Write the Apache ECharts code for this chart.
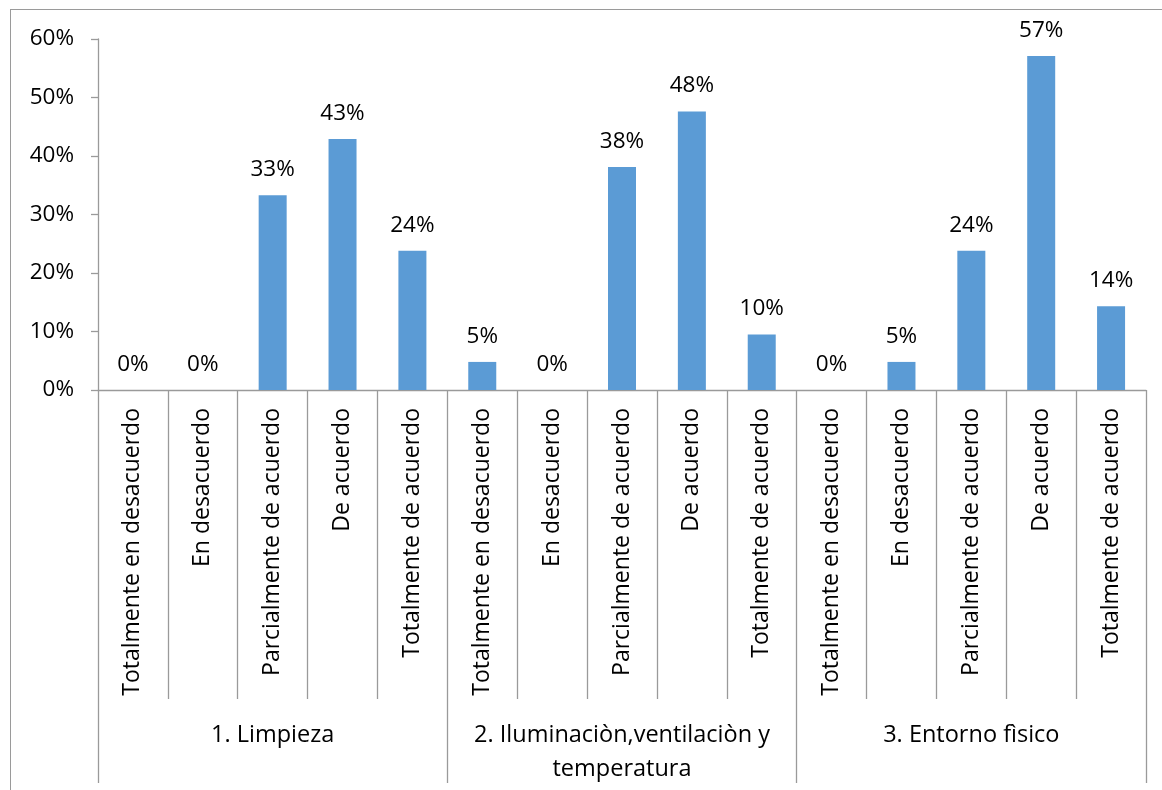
<!DOCTYPE html>
<html>
<head>
<meta charset="utf-8">
<script src="https://cdn.jsdelivr.net/npm/echarts@6/dist/echarts.min.js"></script>
<style>
html,body{margin:0;padding:0;background:#fff;}
#frame{position:absolute;left:10px;top:9px;width:1152px;height:781px;border-top:1.5px solid #9a9a9a;border-left:1.5px solid #9a9a9a;box-sizing:border-box;}
#chart{position:absolute;left:0;top:0;width:1162px;height:790px;}
</style>
</head>
<body>
<div id="frame"></div>
<div id="chart"></div>
<script>
const groups = ['1. Limpieza', '2. Iluminaciòn,ventilaciòn y\ntemperatura', '3. Entorno fìsico'];
const categories = [
  'Totalmente en desacuerdo', 'En desacuerdo', 'Parcialmente de acuerdo', 'De acuerdo', 'Totalmente de acuerdo',
  'Totalmente en desacuerdo', 'En desacuerdo', 'Parcialmente de acuerdo', 'De acuerdo', 'Totalmente de acuerdo',
  'Totalmente en desacuerdo', 'En desacuerdo', 'Parcialmente de acuerdo', 'De acuerdo', 'Totalmente de acuerdo'
];
const values = [0, 0, 33.3, 42.9, 23.8, 4.8, 0, 38.1, 47.6, 9.5, 0, 4.8, 23.8, 57.1, 14.3];
const yTicks = [0, 10, 20, 30, 40, 50, 60];

const FONT = '"Open Sans", sans-serif';
const chart = echarts.init(document.getElementById('chart'));
chart.setOption({
  animation: false,
  grid: {left: 98, right: 16, top: 39, bottom: 400, containLabel: false},
  xAxis: [
    {
      type: 'category',
      data: categories,
      position: 'bottom',
      axisLine: {show: true, lineStyle: {color: '#9a9a9a', width: 1.3}},
      axisTick: {show: true, length: 309, lineStyle: {color: '#9a9a9a', width: 1.3}},
      axisLabel: {
        rotate: 90, interval: 0, margin: 18,
        fontFamily: FONT, fontSize: 23, color: '#000'
      }
    },
    {
      type: 'category',
      data: groups,
      position: 'bottom',
      offset: 309,
      axisLine: {show: false},
      axisTick: {show: true, length: 84, lineStyle: {color: '#9a9a9a', width: 1.3}},
      axisLabel: {
        interval: 0, margin: 19, lineHeight: 34,
        fontFamily: FONT, fontSize: 23.5, color: '#000', align: 'center'
      }
    }
  ],
  yAxis: {
    type: 'value',
    min: yTicks[0], max: yTicks[yTicks.length - 1], interval: 10,
    axisLine: {show: true, lineStyle: {color: '#9a9a9a', width: 1.3}},
    axisTick: {show: true, length: 7, lineStyle: {color: '#9a9a9a', width: 1.3}},
    splitLine: {show: false},
    axisLabel: {
      formatter: '{value}%', margin: 24,
      fontFamily: FONT, fontSize: 22.5, color: '#000'
    }
  },
  series: [{
    type: 'bar',
    xAxisIndex: 0,
    data: values,
    barWidth: 28,
    itemStyle: {color: '#5B9BD5'},
    label: {
      show: true, position: 'top', distance: 14,
      fontFamily: FONT, fontSize: 22.5, color: '#000',
      formatter: p => Math.round(p.value) + '%'
    }
  }]
});
</script>
</body>
</html>
